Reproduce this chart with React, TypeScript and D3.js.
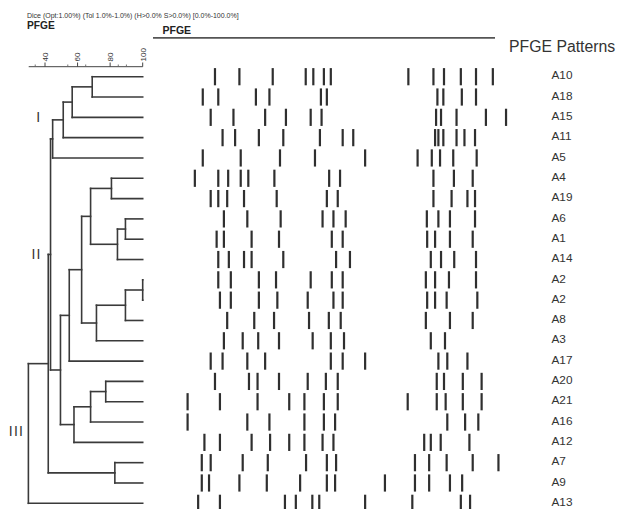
import React from "react";
import * as d3 from "d3";

// ---- data ----
const labels = ["A10","A18","A15","A11","A5","A4","A19","A6","A1","A14","A2","A2","A8","A3","A17","A20","A21","A16","A12","A7","A9","A13"];

// linkage: [childA, childB, similarity %]; leaves 0..21, new clusters from 22
const merges: [number, number, number][] = [
  [0, 1, 69.0],
  [22, 2, 56.7],
  [23, 3, 51.2],
  [24, 4, 44.7],
  [5, 6, 80.8],
  [7, 8, 89.4],
  [27, 9, 84.5],
  [26, 28, 68.0],
  [10, 11, 100],
  [30, 12, 89.4],
  [31, 13, 71.6],
  [29, 32, 62.5],
  [33, 14, 54.9],
  [15, 16, 77.3],
  [35, 17, 68.0],
  [36, 18, 57.8],
  [34, 37, 49.5],
  [25, 38, 43.4],
  [19, 20, 82.9],
  [39, 40, 42.0],
  [41, 21, 29.8],
];

// band positions (relative migration, 0-100) per lane
const bands: number[][] = [
  [10.6, 18.0, 28.1, 38.1, 40.4, 43.6, 45.7, 69.2, 76.8, 80.0, 85.1, 89.7, 94.8],
  [6.9, 11.6, 23.0, 27.1, 42.7, 44.5, 78.0, 79.8, 85.4, 89.7],
  [9.3, 16.2, 25.8, 32.1, 39.6, 42.9, 77.6, 79.1, 83.8, 92.7, 98.8],
  [12.9, 16.7, 23.9, 31.3, 42.4, 49.3, 52.5, 77.3, 78.3, 79.8, 83.8, 86.2, 89.4],
  [6.9, 18.4, 30.3, 40.9, 56.1, 72.0, 76.3, 78.8, 82.8, 89.9],
  [4.5, 11.6, 14.6, 18.4, 20.7, 28.6, 45.2, 48.5, 76.8, 83.0, 88.7],
  [9.3, 11.6, 14.3, 19.4, 29.3, 44.5, 47.8, 76.8, 82.3, 87.1, 89.4],
  [13.3, 20.4, 30.5, 43.2, 46.5, 50.2, 74.8, 78.3, 81.8, 89.4],
  [11.1, 13.3, 21.7, 30.0, 46.0, 49.3, 74.9, 77.3, 81.8, 88.7],
  [11.6, 14.8, 19.4, 21.7, 31.3, 47.3, 51.5, 76.0, 79.1, 83.1, 89.7],
  [11.6, 15.4, 23.9, 29.1, 39.6, 46.0, 49.3, 74.5, 77.3, 81.5, 89.7],
  [12.1, 15.4, 23.9, 29.5, 38.7, 46.5, 49.3, 74.9, 77.3, 80.8, 90.1],
  [14.3, 22.5, 28.5, 39.1, 45.1, 48.7, 74.5, 81.8, 88.7],
  [13.3, 19.0, 23.7, 30.0, 40.2, 45.7, 49.7, 76.0, 80.3],
  [9.3, 12.9, 20.4, 25.8, 45.7, 49.3, 56.1, 78.3, 81.0, 87.1],
  [10.6, 20.9, 23.5, 30.0, 38.7, 44.2, 47.8, 77.8, 80.0, 85.7, 91.4],
  [2.3, 12.1, 23.5, 33.1, 37.7, 43.6, 47.8, 69.0, 77.8, 80.5, 85.7, 91.4],
  [2.3, 20.4, 27.1, 37.7, 43.6, 47.0, 81.0, 86.4, 90.4],
  [7.4, 12.1, 21.7, 27.3, 33.1, 37.7, 43.2, 46.5, 74.0, 76.0, 79.0, 87.7],
  [6.6, 9.3, 19.0, 26.6, 38.2, 44.5, 47.3, 71.2, 75.5, 80.8, 88.7, 96.5],
  [6.6, 8.8, 18.0, 26.3, 36.4, 44.5, 47.0, 62.1, 71.2, 75.5, 81.8, 85.5],
  [5.5, 12.1, 31.8, 35.1, 40.1, 42.2, 56.1, 70.4, 85.1, 87.9],
];

const majorTicks = [40, 60, 80, 100];
const minorTicks = [34, 54, 65, 85, 90];
const axisDomain = [30, 100];

// cluster numerals: [text, row position, similarity where drawn]
const clusterNames: [string, number, number][] = [
  ["I", 2.0, 36.2],
  ["II", 8.75, 34.8],
  ["III", 17.45, 22.5],
];

const FONT = "'Liberation Sans', Arial, Helvetica, sans-serif";

export default function App() {
  const W = 619, H = 509;
  const simX = d3.scaleLinear().domain([40, 100]).range([45, 142.7]);
  const rowY = d3.scaleLinear().domain([0, labels.length - 1]).range([76.7, 503.3]);
  const bandX = d3.scaleLinear().domain([0, 100]).range([180, 510]);

  const n = labels.length;
  const nodeX: number[] = [];
  const nodeY: number[] = [];
  for (let i = 0; i < n; i++) { nodeX[i] = simX(100); nodeY[i] = rowY(i); }
  const segs: { x1: number; y1: number; x2: number; y2: number }[] = [];
  merges.forEach(([a, b, s], k) => {
    const id = n + k;
    const x = simX(s);
    nodeX[id] = x;
    nodeY[id] = (nodeY[a] + nodeY[b]) / 2;
    segs.push({ x1: x, y1: nodeY[a], x2: x, y2: nodeY[b] });
    [a, b].forEach((c) => {
      segs.push({ x1: x, y1: nodeY[c], x2: nodeX[c], y2: nodeY[c] });
    });
  });

  const bandH = 17.2;

  return (
    <svg width={W} height={H} style={{ position: "absolute", left: 0, top: 0, background: "#fff" }}
      fontFamily={FONT}>
      <rect x={0} y={0} width={W} height={H} fill="#fff" />
      {/* header */}
      <text x={27} y={18} fontSize={7} fill="#333">
        Dice (Opt:1.00%) (Tol 1.0%-1.0%) (H&gt;0.0% S&gt;0.0%) [0.0%-100.0%]
      </text>
      <text x={27} y={28.5} fontSize={10.2} fontWeight="bold" fill="#222">PFGE</text>
      <text x={162.5} y={33.5} fontSize={10.5} fontWeight="bold" fill="#222">PFGE</text>
      <line x1={153} x2={495} y1={37.8} y2={37.8} stroke="#555" strokeWidth={1.8} />
      <text x={509} y={51.5} fontSize={15.8} fill="#333">PFGE Patterns</text>

      {/* similarity scale */}
      <line x1={simX(axisDomain[0])} x2={simX(axisDomain[1])} y1={66.7} y2={66.7} stroke="#444" strokeWidth={1} />
      {majorTicks.map((t) => (
        <g key={"M" + t}>
          <line x1={simX(t)} x2={simX(t)} y1={66.7} y2={62.5} stroke="#444" strokeWidth={1} />
          <text transform={`translate(${simX(t)},61.5) rotate(-90)`} dy="0.35em" fontSize={8} fill="#333">{t}</text>
        </g>
      ))}
      {minorTicks.map((t) => (
        <line key={"m" + t} x1={simX(t)} x2={simX(t)} y1={66.7} y2={64.5} stroke="#666" strokeWidth={0.9} />
      ))}

      {/* dendrogram */}
      <g stroke="#3a3a3a" strokeWidth={1.6} fill="none" strokeLinecap="square">
        {segs.map((s, i) => (
          <line key={i} x1={s.x1} y1={s.y1} x2={s.x2} y2={s.y2} />
        ))}
      </g>
      {clusterNames.map(([t, r, s]) => (
        <text key={t} x={simX(s)} y={rowY(r)} dy="0.35em" textAnchor="middle" fontSize={14} letterSpacing={1.2} fill="#333">{t}</text>
      ))}

      {/* bands */}
      <g fill="#2f2f2f">
        {bands.map((row, i) =>
          row.map((b, j) => (
            <rect key={i + "-" + j} x={bandX(b) - 1.1} y={rowY(i) - bandH / 2} width={2.2} height={bandH} />
          ))
        )}
      </g>

      {/* lane labels */}
      {labels.map((l, i) => (
        <text key={i} x={551.5} y={rowY(i) - 1.2} dy="0.33em" fontSize={11.8} fill="#333">{l}</text>
      ))}
    </svg>
  );
}
